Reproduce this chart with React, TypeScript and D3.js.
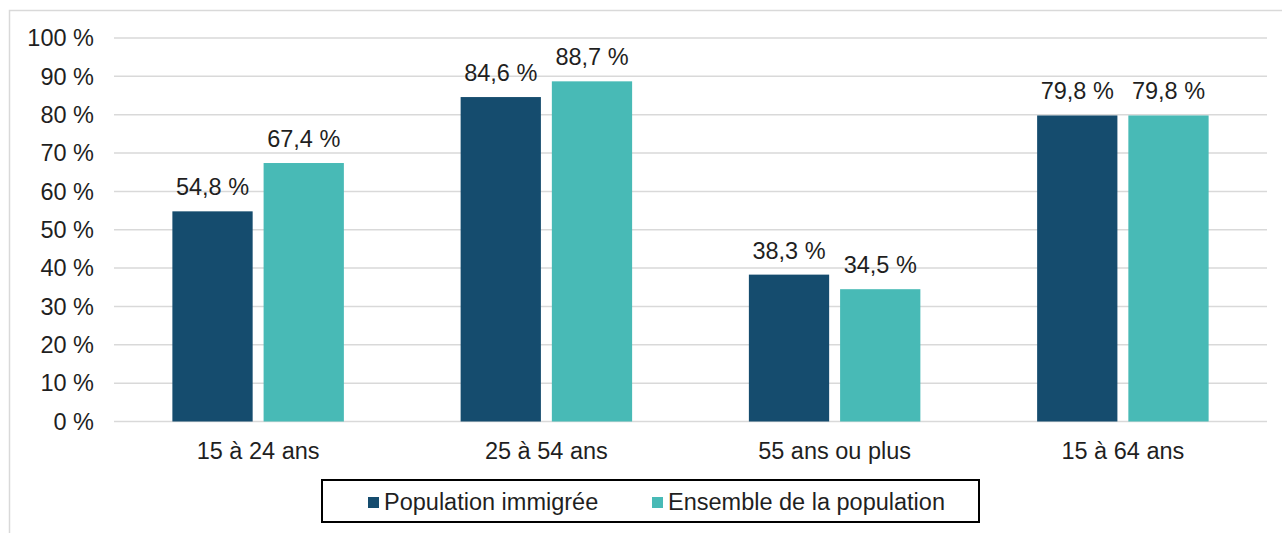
import { useEffect, useRef } from 'react'
import * as d3 from 'd3'

const categories = ['15 à 24 ans', '25 à 54 ans', '55 ans ou plus', '15 à 64 ans']
const seriesNames = ['Population immigrée', 'Ensemble de la population']
const immigres = [54.8, 84.6, 38.3, 79.8]
const ensemble = [67.4, 88.7, 34.5, 79.8]
const yTicks = [0, 10, 20, 30, 40, 50, 60, 70, 80, 90, 100]
const colors = ['#154c6e', '#48bab6']

const W = 1282
const H = 533
const FONT = "'Liberation Sans', Arial, sans-serif"
const FS = '23.5px'

const frFmt = (v: number) => d3.format('.1f')(v).replace('.', ',') + ' %'

export default function App() {
  const svgRef = useRef<SVGSVGElement>(null)

  useEffect(() => {
    if (!svgRef.current) return
    const svg = d3.select(svgRef.current)
    svg.selectAll('*').remove()

    const margin = { top: 38, left: 114, right: 15, bottom: 111.5 }
    const plotRight = W - margin.right
    const plotBottom = H - margin.bottom

    // outer frame (light grey, only top and left visible)
    svg.append('rect')
      .attr('x', 9.5)
      .attr('y', 10.5)
      .attr('width', 1400)
      .attr('height', 700)
      .attr('fill', 'white')
      .attr('stroke', '#d9d9d9')
      .attr('stroke-width', 1.5)

    const x0 = d3.scaleBand<string>()
      .domain(categories)
      .range([margin.left, plotRight])
      .paddingInner(0)
      .paddingOuter(0)

    const x1 = d3.scaleBand<string>()
      .domain(seriesNames)
      .range([0, x0.bandwidth()])
      .paddingInner(0.12)
      .paddingOuter(0.64)

    const y = d3.scaleLinear()
      .domain([0, 100])
      .range([plotBottom, margin.top])

    // gridlines
    svg.append('g')
      .selectAll('line')
      .data(yTicks)
      .enter().append('line')
      .attr('x1', margin.left)
      .attr('x2', plotRight)
      .attr('y1', d => y(d))
      .attr('y2', d => y(d))
      .attr('stroke', '#d9d9d9')
      .attr('stroke-width', 1.5)

    // y tick labels
    svg.append('g')
      .selectAll('text')
      .data(yTicks)
      .enter().append('text')
      .attr('x', 94)
      .attr('y', d => y(d))
      .attr('dy', '0.35em')
      .attr('text-anchor', 'end')
      .style('font-family', FONT)
      .style('font-size', FS)
      .attr('fill', '#1f1f1f')
      .text(d => `${d} %`)

    const series = [immigres, ensemble]

    series.forEach((values, si) => {
      const name = seriesNames[si]
      const g = svg.append('g')
      g.selectAll('rect')
        .data(values)
        .enter().append('rect')
        .attr('x', (_, i) => (x0(categories[i]) ?? 0) + (x1(name) ?? 0))
        .attr('y', d => y(d))
        .attr('width', x1.bandwidth())
        .attr('height', d => y(0) - y(d))
        .attr('fill', colors[si])

      g.selectAll('text')
        .data(values)
        .enter().append('text')
        .attr('x', (_, i) => (x0(categories[i]) ?? 0) + (x1(name) ?? 0) + x1.bandwidth() / 2)
        .attr('y', d => y(d) - 16)
        .attr('text-anchor', 'middle')
        .style('font-family', FONT)
        .style('font-size', FS)
        .attr('fill', '#1f1f1f')
        .text(d => frFmt(d))
    })

    // category labels
    svg.append('g')
      .selectAll('text')
      .data(categories)
      .enter().append('text')
      .attr('x', d => (x0(d) ?? 0) + x0.bandwidth() / 2)
      .attr('y', 459)
      .attr('text-anchor', 'middle')
      .style('font-family', FONT)
      .style('font-size', FS)
      .attr('fill', '#1f1f1f')
      .text(d => d)

    // legend
    const legend = svg.append('g')
    legend.append('rect')
      .attr('x', 322)
      .attr('y', 480)
      .attr('width', 657)
      .attr('height', 42)
      .attr('fill', 'white')
      .attr('stroke', '#000')
      .attr('stroke-width', 2)

    const legendX = [368, 652]
    seriesNames.forEach((name, i) => {
      legend.append('rect')
        .attr('x', legendX[i])
        .attr('y', 497)
        .attr('width', 11)
        .attr('height', 11)
        .attr('fill', colors[i])
      legend.append('text')
        .attr('x', legendX[i] + 16)
        .attr('y', 510)
        .style('font-family', FONT)
        .style('font-size', FS)
        .attr('fill', '#1f1f1f')
        .text(name)
    })
  }, [])

  return (
    <svg
      ref={svgRef}
      width={W}
      height={H}
      style={{ position: 'absolute', left: 0, top: 0, display: 'block', background: 'white' }}
    />
  )
}
